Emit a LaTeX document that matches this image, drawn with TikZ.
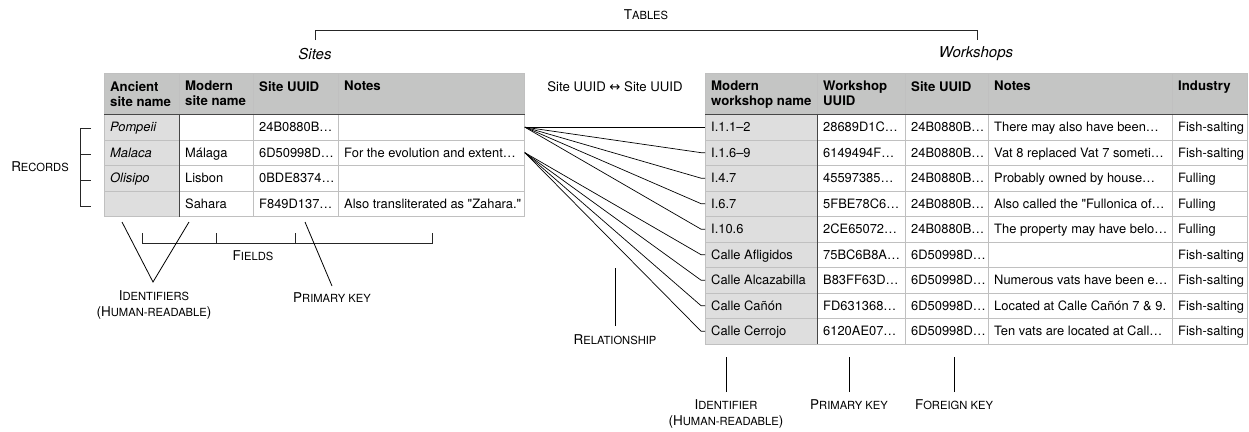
\documentclass[tikz,border=0pt]{standalone}
\usepackage{fontspec}
\setmainfont{TeX Gyre Heros}[Ligatures=TeXOff]
\newfontfamily\arrowfont{DejaVu Sans}
\usetikzlibrary{positioning,calc}
\usepackage{xcolor}
\definecolor{gridgray}{RGB}{192,192,192}
\definecolor{headgray}{RGB}{196,197,196}
\definecolor{keygray}{RGB}{222,222,222}
\definecolor{rulegray}{RGB}{70,70,70}
% small capitals: full-size initial, reduced capitals after it
\newcommand{\capword}[2]{{\fontsize{13.5}{16}\selectfont #1}{\fontsize{11.2}{16}\selectfont #2}}

\begin{document}
\begin{tikzpicture}[
    x=1pt, y=-1pt,
    every node/.style={font=\fontsize{12.9}{15}\selectfont, inner sep=0pt},
    cell/.style={rectangle, draw=gridgray, line width=0.8pt, anchor=north west, minimum height=25.5pt},
    headcell/.style={rectangle, draw=gridgray, line width=0.8pt, fill=headgray, anchor=north west, minimum height=41pt},
    headtext/.style={anchor=north west, align=left, font=\fontsize{13.2}{15}\selectfont\bfseries},
    celltext/.style={anchor=base west},
    caption/.style={align=center, font=\fontsize{13.5}{16}\selectfont},
    tabletitle/.style={font=\fontsize{15}{18}\selectfont\itshape},
    keyrule/.style={draw=rulegray, line width=1.1pt},
    bracket/.style={draw=black!85, line width=1pt},
    pointer/.style={draw=black, line width=0.8pt},
    link/.style={draw=black, line width=0.7pt}
]
\useasboundingbox (0,0) rectangle (1249,431);

% Sites table
\fill[keygray] (104,114) rectangle (179,216);
\foreach \cx/\cw/\hd [count=\k] in {104/75/{Ancient\\site name}, 179/74/{Modern\\site name}, 253/85/{Site UUID}, 338/186/{Notes}} {
    \node[headcell, minimum width=\cw pt] (site-h\k) at (\cx,73) {};
    \node[headtext] at ([xshift=6pt, yshift=-8pt]site-h\k.north west) {\hd};
    \foreach \r in {1,...,4}
        \node[cell, minimum width=\cw pt] (site-\r-\k) at (\cx,{114+(\r-1)*25.5}) {};
}
\draw[keyrule] (site-h1.south west) -- (site-h4.south east);
\draw[keyrule] (site-1-1.north east) -- (site-4-1.south east);

\foreach \an/\mo/\id/\nt [count=\r] in {Pompeii/{}/24B0880B…/{}, Malaca/Málaga/6D50998D…/For the evolution and extent…, Olisipo/Lisbon/0BDE8374…/{}, {}/Sahara/F849D137…/Also transliterated as "Zahara."} {
    \node[celltext] at ([xshift=6pt, yshift=-4.6pt]site-\r-1.west) {\itshape\an};
    \node[celltext] at ([xshift=6pt, yshift=-4.6pt]site-\r-2.west) {\mo};
    \node[celltext] at ([xshift=6pt, yshift=-4.6pt]site-\r-3.west) {\id};
    \node[celltext] at ([xshift=6pt, yshift=-4.6pt]site-\r-4.west) {\nt};
}

% Workshops table
\fill[keygray] (705,114) rectangle (817,343.5);
\foreach \cx/\cw/\hd [count=\k] in {705/112/{Modern\\workshop name}, 817/88/{Workshop\\UUID}, 905/83/{Site UUID}, 988/184/{Notes}, 1172/75/{Industry}} {
    \node[headcell, minimum width=\cw pt] (ws-h\k) at (\cx,73) {};
    \node[headtext] at ([xshift=6pt, yshift=-8pt]ws-h\k.north west) {\hd};
    \foreach \r in {1,...,9}
        \node[cell, minimum width=\cw pt] (ws-\r-\k) at (\cx,{114+(\r-1)*25.5}) {};
}
\draw[keyrule] (ws-h1.south west) -- (ws-h5.south east);
\draw[keyrule] (ws-1-1.north east) -- (ws-9-1.south east);

\foreach \na/\wid/\sid/\nt/\ind [count=\r] in {
    I.1.1–2/28689D1C…/24B0880B…/There may also have been…/Fish-salting,
    I.1.6–9/6149494F…/24B0880B…/Vat 8 replaced Vat 7 someti…/Fish-salting,
    I.4.7/45597385…/24B0880B…/Probably owned by house…/Fulling,
    I.6.7/5FBE78C6…/24B0880B…/Also called the "Fullonica of…/Fulling,
    I.10.6/2CE65072…/24B0880B…/The property may have belo…/Fulling,
    Calle Afligidos/75BC6B8A…/6D50998D…/{}/Fish-salting,
    Calle Alcazabilla/B83FF63D…/6D50998D…/Numerous vats have been e…/Fish-salting,
    Calle Cañón/FD631368…/6D50998D…/Located at Calle Cañón 7 \& 9./Fish-salting,
    Calle Cerrojo/6120AE07…/6D50998D…/Ten vats are located at Call…/Fish-salting} {
    \node[celltext] at ([xshift=6pt, yshift=-4.6pt]ws-\r-1.west) {\na};
    \node[celltext] at ([xshift=6pt, yshift=-4.6pt]ws-\r-2.west) {\wid};
    \node[celltext] at ([xshift=6pt, yshift=-4.6pt]ws-\r-3.west) {\sid};
    \node[celltext] at ([xshift=6pt, yshift=-4.6pt]ws-\r-4.west) {\nt};
    \node[celltext] at ([xshift=6pt, yshift=-4.6pt]ws-\r-5.west) {\ind};
}

% Relationship links
\foreach \r in {1,...,5}
    \draw[link] (site-1-4.east) -- ([xshift=-4pt]ws-\r-1.west) -- (ws-\r-1.west);
\foreach \r in {6,...,9}
    \draw[link] (site-2-4.east) -- ([xshift=-4pt]ws-\r-1.west) -- (ws-\r-1.west);
\node[font=\fontsize{13.2}{15}\selectfont] (keys) at (615,87) {Site UUID {\arrowfont ↔} Site UUID};

% Titles and the tables bracket
\node[caption] (tables) at (646,15) {\capword{T}{ABLES}};
\node[tabletitle] (sites) at (315,54) {Sites};
\node[tabletitle] (workshops) at (976,54) {Workshops};
\draw[bracket] (315,40) -- (315,30) -- (977,30) -- (977,40);

% Records
\node[caption, anchor=east] (records) at (69,167) {\capword{R}{ECORDS}};
\draw[bracket] (91,128) -- (80,128) -- (80,206) -- (91,206);
\draw[bracket] (80,154) -- (91,154) (80,180) -- (91,180);

% Fields
\node[caption] (fields) at (253,256) {\capword{F}{IELDS}};
\draw[bracket] (142,233) -- (142,243) -- (432,243) -- (432,233);
\draw[bracket] (216,243) -- (216,233) (295,243) -- (295,233);

% Identifiers and keys of the sites table
\node[caption, anchor=north] (idents) at (154,290) {\capword{I}{DENTIFIERS}\\(\capword{H}{UMAN-READABLE})};
\coordinate (idapex) at (153,282);
\draw[pointer] (122,222) -- (idapex) -- (189,222);
\node[caption, anchor=north] (sitekey) at (332,292) {\capword{P}{RIMARY KEY}};
\draw[pointer] (305,222) -- ([yshift=6pt]sitekey.north);

% Relationship
\node[caption, anchor=north] (relation) at (615,334) {\capword{R}{ELATIONSHIP}};
\draw[pointer] ([yshift=8pt]relation.north) -- ++(0,-58);

% Identifier and keys of the workshops table
\node[caption, anchor=north] (ident) at (726,399) {\capword{I}{DENTIFIER}\\(\capword{H}{UMAN-READABLE})};
\node[caption, anchor=north] (wskey) at (849,399) {\capword{P}{RIMARY KEY}};
\node[caption, anchor=north] (foreignkey) at (954,399) {\capword{F}{OREIGN KEY}};
\foreach \n in {ident, wskey, foreignkey}
    \draw[pointer] ([yshift=7pt]\n.north) -- ++(0,-35);

\end{tikzpicture}
\end{document}
